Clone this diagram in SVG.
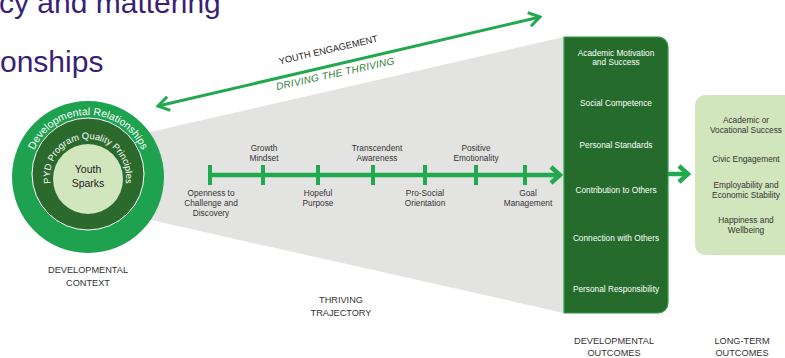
<svg xmlns="http://www.w3.org/2000/svg" width="785" height="358" viewBox="0 0 785 358">
  <style>
    .title { font-family: "Liberation Sans", Arial, sans-serif; font-size: 30px; fill: #3b1f77; }
    .lbl { font-family: "Liberation Sans", Arial, sans-serif; font-size: 8.3px; fill: #333333; text-anchor: middle; }
    .out { font-family: "Liberation Sans", Arial, sans-serif; font-size: 8.3px; fill: #ffffff; text-anchor: middle; }
    .lt { font-family: "Liberation Sans", Arial, sans-serif; font-size: 8.3px; fill: #333333; text-anchor: middle; }
    .cap { font-family: "Liberation Sans", Arial, sans-serif; font-size: 9.2px; fill: #333333; text-anchor: middle; }
    .ring { font-family: "Liberation Sans", Arial, sans-serif; fill: #ffffff; text-anchor: middle; }
    .conn { fill: none; stroke: #22a84f; stroke-linejoin: miter; }
    .tick { stroke: #22a84f; stroke-width: 4; }
  </style>
  <defs>
    <marker id="chev" viewBox="-14 -10 16 20" markerUnits="userSpaceOnUse" markerWidth="16" markerHeight="20" refX="0" refY="0" orient="auto-start-reverse">
      <path d="M -11 -7 L 0 0 L -11 7" fill="none" stroke="#22a84f" stroke-width="3"/>
    </marker>
    <marker id="chevBig" viewBox="-16 -12 18 24" markerUnits="userSpaceOnUse" markerWidth="18" markerHeight="24" refX="0" refY="0" orient="auto">
      <path d="M -10 -8 L -1 0 L -10 8" fill="none" stroke="#22a84f" stroke-width="4.5"/>
    </marker>
    <path id="arcOuter" d="M 29 174 A 59 59 0 0 1 147 174"/>
    <path id="arcInner" d="M 52.3 190 A 38 38 0 1 1 123.7 190"/>
  </defs>

  <!-- heading fragments -->
  <text class="title" x="-1" y="13">cy and mattering</text>
  <text class="title" x="0" y="72">onships</text>

  <!-- trajectory funnel -->
  <g id="funnel">
    <polygon points="120,139 564,37 564,313 120,213" fill="#e3e4e2"/>
  </g>

  <!-- developmental context -->
  <g id="context">
    <circle cx="88" cy="177" r="76" fill="#1ea24f"/>
    <circle cx="88" cy="174" r="56" fill="#2b6a2c" stroke="#ffffff" stroke-width="1"/>
    <circle cx="88" cy="179" r="35" fill="#d2e6bd"/>
    <text class="ring" font-size="10.5"><textPath href="#arcOuter" startOffset="50%">Developmental Relationships</textPath></text>
    <text class="ring" font-size="9.3"><textPath href="#arcInner" startOffset="50%">PYD Program Quality Principles</textPath></text>
    <text x="88" y="173" font-family="Liberation Sans, Arial, sans-serif" font-size="10.5" fill="#222222" text-anchor="middle">Youth</text>
    <text x="88" y="187" font-family="Liberation Sans, Arial, sans-serif" font-size="10.5" fill="#222222" text-anchor="middle">Sparks</text>
    <text class="cap" x="88" y="273">DEVELOPMENTAL</text>
    <text class="cap" x="88" y="286">CONTEXT</text>
  </g>

  <!-- engagement labels -->
  <g id="engagement">
    <text transform="translate(329 53) rotate(-13.1)" font-family="Liberation Sans, Arial, sans-serif" font-size="9.3" fill="#222222" text-anchor="middle">YOUTH ENGAGEMENT</text>
    <text transform="translate(336 77) rotate(-12.5)" font-family="Liberation Sans, Arial, sans-serif" font-style="italic" font-size="10" letter-spacing="0.3" fill="#2f7d32" text-anchor="middle">DRIVING THE THRIVING</text>
  </g>

  <!-- thriving trajectory steps -->
  <g id="steps">
    <line class="tick" x1="210" y1="165" x2="210" y2="185"/>
    <line class="tick" x1="263" y1="165" x2="263" y2="185"/>
    <line class="tick" x1="318" y1="165" x2="318" y2="185"/>
    <line class="tick" x1="373" y1="165" x2="373" y2="185"/>
    <line class="tick" x1="425" y1="165" x2="425" y2="185"/>
    <line class="tick" x1="476" y1="165" x2="476" y2="185"/>
    <line class="tick" x1="525" y1="165" x2="525" y2="185"/>
    <text class="lbl" x="264" y="151">Growth</text>
    <text class="lbl" x="264" y="161">Mindset</text>
    <text class="lbl" x="377" y="151">Transcendent</text>
    <text class="lbl" x="377" y="161">Awareness</text>
    <text class="lbl" x="476" y="151">Positive</text>
    <text class="lbl" x="476" y="161">Emotionality</text>
    <text class="lbl" x="211" y="196">Openness to</text>
    <text class="lbl" x="211" y="206">Challenge and</text>
    <text class="lbl" x="211" y="216">Discovery</text>
    <text class="lbl" x="318" y="196">Hopeful</text>
    <text class="lbl" x="318" y="206">Purpose</text>
    <text class="lbl" x="425" y="196">Pro-Social</text>
    <text class="lbl" x="425" y="206">Orientation</text>
    <text class="lbl" x="528" y="196">Goal</text>
    <text class="lbl" x="528" y="206">Management</text>
    <text class="cap" x="341" y="303">THRIVING</text>
    <text class="cap" x="341" y="316">TRAJECTORY</text>
  </g>

  <!-- developmental outcomes -->
  <g id="dev-outcomes">
    <path d="M 564 37 H 658 A 10 10 0 0 1 668 47 V 303 A 10 10 0 0 1 658 313 H 564 Z" fill="#256b2b" stroke="#2e9e4a" stroke-width="1.2"/>
    <text class="out" x="616" y="56">Academic Motivation</text>
    <text class="out" x="616" y="65">and Success</text>
    <text class="out" x="616" y="106">Social Competence</text>
    <text class="out" x="616" y="148">Personal Standards</text>
    <text class="out" x="616" y="193">Contribution to Others</text>
    <text class="out" x="616" y="241">Connection with Others</text>
    <text class="out" x="616" y="292">Personal Responsibility</text>
    <text class="cap" x="614" y="344">DEVELOPMENTAL</text>
    <text class="cap" x="614" y="356">OUTCOMES</text>
  </g>

  <!-- long-term outcomes -->
  <g id="long-term">
    <rect x="695" y="95" width="110" height="160" rx="10" fill="#d2e6bd"/>
    <text class="lt" x="746" y="123">Academic or</text>
    <text class="lt" x="746" y="133">Vocational Success</text>
    <text class="lt" x="746" y="162">Civic Engagement</text>
    <text class="lt" x="746" y="188">Employability and</text>
    <text class="lt" x="746" y="197.5">Economic Stability</text>
    <text class="lt" x="746" y="223">Happiness and</text>
    <text class="lt" x="746" y="233">Wellbeing</text>
    <text class="cap" x="742" y="344">LONG-TERM</text>
    <text class="cap" x="742" y="356">OUTCOMES</text>
  </g>

  <!-- connectors -->
  <g id="connectors">
    <line class="conn" x1="158" y1="106" x2="540" y2="17" stroke-width="3" marker-start="url(#chev)" marker-end="url(#chev)"/>
    <line class="conn" x1="210" y1="175" x2="561" y2="175" stroke-width="4.5" marker-end="url(#chevBig)"/>
    <line class="conn" x1="668" y1="174" x2="689" y2="174" stroke-width="4.5" marker-end="url(#chevBig)"/>
  </g>
</svg>
